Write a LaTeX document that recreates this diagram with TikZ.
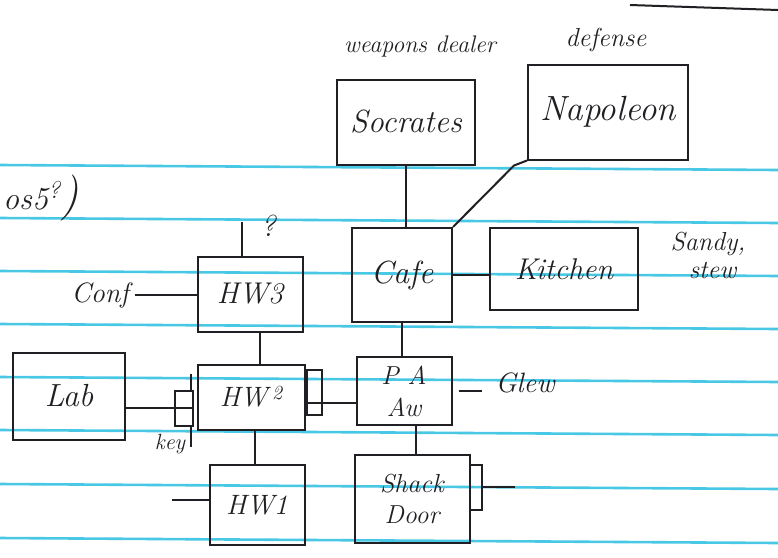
\documentclass[tikz,border=0pt]{standalone}
\definecolor{inkc}{RGB}{32,32,36}
\definecolor{rulec}{RGB}{72,200,228}
\begin{document}
\begin{tikzpicture}[x=1pt,y=-1pt,
  box/.style={draw=inkc, line width=2pt, rectangle, inner sep=0pt, text=inkc, font=\itshape, align=center},
  lbl/.style={text=inkc, font=\itshape, inner sep=1pt, align=left},
  conn/.style={draw=inkc, line width=2pt},
  rule/.style={draw=rulec, line width=2.6pt}]
\useasboundingbox (0,0) rectangle (778,557);
\fill[white] (0,0) rectangle (778,557);
% ruled paper lines
\foreach \y in {165,218,271,324,377,430,484,538}
  \draw[rule] (0,\y) -- (778,\y+5);
% stray stroke top right
\draw[conn] (630,5) -- (778,10);

% boxes
\node[box, minimum width=138pt, minimum height=85pt, font=\itshape\fontsize{32}{34}\selectfont] (soc) at (406,122) {Socrates};
\node[box, minimum width=160pt, minimum height=95pt, font=\itshape\fontsize{35}{36}\selectfont] (nap) at (608,112) {Napoleon};
\node[box, minimum width=100pt, minimum height=94pt, font=\itshape\fontsize{32}{34}\selectfont] (cafe) at (402,275) {Cafe};
\node[box, minimum width=148pt, minimum height=82pt, font=\itshape\fontsize{30}{32}\selectfont] (kit) at (564,269) {Kitchen};
\node[box, minimum width=105pt, minimum height=75pt, font=\itshape\fontsize{30}{32}\selectfont] (hw3) at (250,294) {HW3};
\node[box, minimum width=95pt, minimum height=68pt, font=\itshape\fontsize{26}{32}\selectfont] (pa) at (404,391) {P A\\Aw};
\node[box, minimum width=107pt, minimum height=65pt, font=\itshape\fontsize{28}{30}\selectfont] (hw2) at (251,397) {HW\,\raisebox{0.6ex}{\fontsize{20}{22}\selectfont 2}};
\node[box, minimum width=112pt, minimum height=87pt, font=\itshape\fontsize{32}{34}\selectfont] (lab) at (69,396) {Lab};
\node[box, minimum width=95pt, minimum height=80pt, font=\itshape\fontsize{28}{30}\selectfont] (hw1) at (257,505) {HW1};
\node[box, minimum width=115pt, minimum height=88pt, font=\itshape\fontsize{26}{31}\selectfont] (shack) at (412,499) {Shack\\Door};
% doors and key
\node[box, minimum width=15pt, minimum height=45pt] (hw2door) at (314,392) {};
\node[box, minimum width=12pt, minimum height=45pt] (shackdoor) at (476,487) {};
\node[box, minimum width=18pt, minimum height=35pt] (key) at (184,408) {};

% labels
\node[lbl, font=\itshape\fontsize{24}{26}\selectfont] (wd) at (420,46) {weapons dealer};
\node[lbl, font=\itshape\fontsize{26}{28}\selectfont] (def) at (606,40) {defense};
\node[lbl, font=\itshape\fontsize{26}{28}\selectfont] (sandy) at (708,255) {Sandy,\\\ \ stew};
\node[lbl, font=\itshape\fontsize{28}{30}\selectfont] (conf) at (100,295) {Conf};
\node[lbl, font=\itshape\fontsize{28}{30}\selectfont] (glew) at (525,383) {Glew};
\node[lbl, font=\itshape\fontsize{22}{24}\selectfont] (keyl) at (170,444) {key};
\node[lbl, font=\itshape\fontsize{30}{32}\selectfont] (qm) at (268,226) {?};
\node[lbl, font=\itshape\fontsize{32}{34}\selectfont, anchor=west] (os) at (2,198) {os5\raisebox{0.8ex}{\fontsize{24}{26}\selectfont ?}\fontsize{46}{48}\selectfont)};

% free ends
\coordinate (qtop) at (242,222);
\coordinate (hw1end) at (172,500);
\coordinate (shackend) at (515,487);

% connectors
\draw[conn] (soc.south) -- (soc.south |- cafe.north);
\draw[conn] (nap.south west) -- ++(-13,5) -- (cafe.north east);
\draw[conn] (cafe.east) -- (kit.west |- cafe.east);
\draw[conn] (cafe.south) -- (cafe.south |- pa.north);
\draw[conn] ([xshift=12pt]pa.south) -- ([xshift=12pt]pa.south |- shack.north);
\draw[conn, shorten <=6pt, shorten >=12pt] (pa.east) -- (glew.west |- pa.east);
\draw[conn] (shackdoor.east) -- (shackend);
\draw[conn] ([yshift=-6pt]hw2.east) -- ([yshift=-6pt]hw2.east -| pa.west);
\draw[conn] (lab.east |- key.center) -- (key.east);
\draw[conn] ([xshift=-3pt]key.north east) -- ++(0,-16) ;
\draw[conn] ([xshift=-3pt]key.south east) -- ++(0,20) ;
\draw[conn] ([xshift=10pt]hw3.south) -- ([xshift=10pt]hw3.south |- hw2.north);
\draw[conn] ([xshift=4pt]hw2.south) -- ([xshift=4pt]hw2.south |- hw1.north);
\draw[conn, shorten <=5pt] (conf.east) -- (hw3.west |- conf.east);
\draw[conn] (hw3.north -| qtop) -- (qtop);
\draw[conn] (hw1.west |- hw1end) -- (hw1end);
\end{tikzpicture}
\end{document}
